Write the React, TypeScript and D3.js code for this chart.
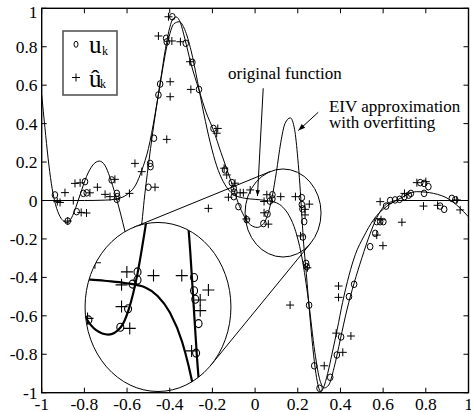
import React from "react";
import * as d3 from "d3";

// axis ticks
const xTickValues = [-1, -0.8, -0.6, -0.4, -0.2, 0, 0.2, 0.4, 0.6, 0.8, 1];
const xTickLabels = ["-1", "-0.8", "-0.6", "-0.4", "-0.2", "0", "0.2", "0.4", "0.6", "0.8", "1"];
const yTickValues = [-1, -0.8, -0.6, -0.4, -0.2, 0, 0.2, 0.4, 0.6, 0.8, 1];
const yTickLabels = ["-1", "-0.8", "-0.6", "-0.4", "-0.2", "0", "0.2", "0.4", "0.6", "0.8", "1"];

// original function
const originalFn: [number, number][] = [
  [-1, 0], [-0.8, 0], [-0.7, 0.002], [-0.65, 0.008], [-0.62, 0.018], [-0.59, 0.04],
  [-0.56, 0.08], [-0.53, 0.16], [-0.5, 0.27], [-0.47, 0.44], [-0.44, 0.64], [-0.41, 0.82],
  [-0.38, 0.92], [-0.355, 0.93], [-0.33, 0.89], [-0.3, 0.78], [-0.27, 0.62], [-0.24, 0.45],
  [-0.21, 0.3], [-0.18, 0.18], [-0.15, 0.1], [-0.12, 0.05], [-0.09, 0.025], [-0.05, 0.012],
  [0, 0.006], [0.05, 0], [0.1, -0.012], [0.13, -0.035], [0.16, -0.08], [0.19, -0.16],
  [0.22, -0.3], [0.25, -0.52], [0.28, -0.79], [0.305, -0.94], [0.325, -0.975], [0.345, -0.96],
  [0.37, -0.87], [0.4, -0.72], [0.43, -0.57], [0.464, -0.43], [0.5, -0.3], [0.54, -0.17],
  [0.57, -0.09], [0.6, -0.035], [0.63, -0.01], [0.67, 0], [1, 0],
];

// EIV approximation with overfitting
const eivFit: [number, number][] = [
  [-1, 0.55], [-0.985, 0.38], [-0.97, 0.22], [-0.955, 0.09], [-0.94, 0], [-0.92, -0.07],
  [-0.9, -0.105], [-0.88, -0.115], [-0.86, -0.09], [-0.84, -0.035], [-0.82, 0.03], [-0.79, 0.125],
  [-0.76, 0.185], [-0.73, 0.205], [-0.705, 0.185], [-0.68, 0.12], [-0.655, 0.03], [-0.63, -0.07],
  [-0.61, -0.16], [-0.59, -0.25], [-0.565, -0.3], [-0.545, -0.23], [-0.53, -0.11], [-0.52, 0],
  [-0.505, 0.14], [-0.49, 0.27], [-0.47, 0.43], [-0.445, 0.61], [-0.42, 0.79], [-0.4, 0.9],
  [-0.385, 0.945], [-0.37, 0.955], [-0.35, 0.925], [-0.33, 0.845], [-0.3, 0.71], [-0.263, 0.575],
  [-0.23, 0.46], [-0.195, 0.365], [-0.16, 0.25], [-0.13, 0.155], [-0.105, 0.075], [-0.08, -0.01],
  [-0.05, -0.085], [-0.02, -0.128], [0.01, -0.14], [0.04, -0.12], [0.06, -0.07], [0.08, 0.02],
  [0.1, 0.15], [0.12, 0.3], [0.14, 0.4], [0.165, 0.43], [0.185, 0.37], [0.2, 0.22],
  [0.21, 0.08], [0.218, -0.06], [0.226, -0.2], [0.24, -0.38], [0.255, -0.58], [0.27, -0.76],
  [0.285, -0.9], [0.297, -0.97], [0.308, -0.995], [0.32, -0.975], [0.34, -0.9], [0.36, -0.8],
  [0.385, -0.67], [0.41, -0.53], [0.44, -0.39], [0.47, -0.28], [0.508, -0.19], [0.555, -0.1],
  [0.617, -0.03], [0.68, 0.011], [0.758, 0.046], [0.836, 0.037], [0.914, 0.003], [0.977, -0.058],
  [1, -0.085],
];

// u_k (circles)
const uPoints: [number, number][] = [
  [-0.938, 0.029], [-0.878, -0.107], [-0.836, -0.058], [-0.797, 0.098], [-0.805, 0.037], [-0.789, 0.04],
  [-0.672, 0.107], [-0.648, 0.037], [-0.646, 0.02], [-0.648, 0.006], [-0.492, 0.193], [-0.49, 0.176],
  [-0.5, 0.069], [-0.388, 0.956], [-0.417, 0.844], [-0.414, 0.825], [-0.325, 0.818], [-0.294, 0.719],
  [-0.445, 0.606], [-0.453, 0.549], [-0.263, 0.578], [-0.195, 0.375], [-0.474, 0.324], [-0.141, 0.159],
  [-0.109, 0.093], [-0.1, 0.063], [-0.097, 0.043], [-0.1, 0.02], [-0.078, -0.032], [-0.039, -0.1],
  [0.069, -0.003], [0.081, 0.03], [0.081, 0.008], [0.058, -0.07], [0.039, -0.12], [0.219, 0.015],
  [0.219, -0.021], [0.222, -0.044], [0.23, -0.11], [0.224, -0.19], [0.239, -0.327], [0.242, -0.344],
  [0.253, -0.545], [0.277, -0.86], [0.302, -0.977], [0.352, -0.92], [0.383, -0.804], [0.403, -0.71],
  [0.44, -0.5], [0.464, -0.436], [0.539, -0.24], [0.563, -0.171], [0.57, -0.11], [0.586, -0.11],
  [0.601, -0.11], [0.614, -0.029], [0.633, 0], [0.656, 0.003], [0.677, 0.006], [0.7, 0.02],
  [0.72, 0.028], [0.73, 0.037], [0.774, 0.093], [0.792, 0.089], [0.812, 0.072], [0.792, 0.037],
  [0.867, -0.029], [0.886, -0.046], [0.922, 0.011], [0.938, 0.003],
];

// û_k (crosses)
const uHatPoints: [number, number][] = [
  [-0.927, -0.006], [-0.914, -0.01], [-0.891, 0.041], [-0.852, 0], [-0.815, -0.062], [-0.79, -0.065],
  [-0.878, -0.107], [-0.844, 0.089], [-0.82, 0.092], [-0.774, 0.04], [-0.739, 0.069], [-0.703, 0.032],
  [-0.68, 0.02], [-0.657, 0.11], [-0.589, 0.037], [-0.563, 0.193], [-0.531, 0.15], [-0.469, 0.069],
  [-0.406, 0.956], [-0.453, 0.856], [-0.39, 0.83], [-0.35, 0.826], [-0.305, 0.722], [-0.398, 0.618],
  [-0.398, 0.54], [-0.301, 0.578], [-0.175, 0.375], [-0.18, 0.35], [-0.414, 0.318], [-0.145, 0.168],
  [-0.133, 0.133], [-0.094, 0.09], [-0.125, 0.017], [-0.07, 0.04], [-0.055, 0.04], [-0.023, 0.055],
  [-0.219, -0.041], [-0.041, -0.096], [0.055, 0.03], [0.042, -0.005], [0.12, 0.02], [0.042, -0.064],
  [0.062, -0.123], [0.189, 0.02], [0.254, -0.019], [0.234, -0.046], [0.213, -0.184], [0.234, -0.075],
  [0.245, -0.35], [0.164, -0.544], [0.391, -0.445], [0.391, -0.504], [0.38, -0.69], [0.449, -0.705],
  [0.411, -0.79], [0.324, -0.86], [0.57, -0.18], [0.599, -0.235], [0.688, -0.113], [0.59, -0.1],
  [0.586, -0.006], [0.7, 0.037], [0.758, 0.093], [0.8, 0.098], [0.789, -0.029], [0.855, -0.025],
  [0.945, 0.003], [0.961, -0.049],
];

const legendNames = ["u", "û"];
const legendSub = "k";
const origLabel = "original function";
const eivLabel = ["EIV approximation", "with overfitting"];

const W = 471;
const H = 412;
const serif: React.CSSProperties = { fontFamily: "Liberation Serif" };

function plus(px: number, py: number, a: number) {
  return `M${px - a},${py}H${px + a}M${px},${py - a}V${py + a}`;
}

function arrowHead(x1: number, y1: number, x2: number, y2: number, len: number, half: number) {
  const dx = x2 - x1, dy = y2 - y1;
  const d = Math.hypot(dx, dy);
  const ux = dx / d, uy = dy / d;
  const bx = x2 - ux * len, by = y2 - uy * len;
  return `${x2},${y2} ${bx - uy * half},${by + ux * half} ${bx + uy * half},${by - ux * half}`;
}

export default function App() {
  const x = d3.scaleLinear().domain([-1, 1]).range([41.7, 468.5]);
  const y = d3.scaleLinear().domain([-1, 1]).range([392.7, 8.3]);

  // zoom geometry in data units
  const zoomC = [0.131, -0.065];
  const zoomR = [0.178, 0.229];
  const insetC = [-0.455, -0.554];
  const mag = 1.92;

  const cs = [x(zoomC[0]), y(zoomC[1])];
  const rs = [x(zoomC[0] + zoomR[0]) - cs[0], cs[1] - y(zoomC[1] + zoomR[1])];
  const cb = [x(insetC[0]), y(insetC[1])];
  const rb = [rs[0] * mag, rs[1] * mag];

  const xi = d3.scaleLinear().domain(x.domain()).range(x.range().map((v) => cb[0] + mag * (v - cs[0])));
  const yi = d3.scaleLinear().domain(y.domain()).range(y.range().map((v) => cb[1] + mag * (v - cs[1])));

  // outer tangents between the two (similar) ellipses
  const k = rs[0] / rs[1];
  const c1 = [cs[0], cs[1] * k], r1 = rs[0];
  const c2 = [cb[0], cb[1] * k], r2 = rb[0];
  const hx = (r2 * c1[0] - r1 * c2[0]) / (r2 - r1);
  const hy = (r2 * c1[1] - r1 * c2[1]) / (r2 - r1);
  const tangentPt = (c: number[], r: number, s: number) => {
    const dx = c[0] - hx, dy = c[1] - hy;
    const d = Math.hypot(dx, dy);
    const th = Math.atan2(dy, dx) + s * Math.asin(r / d);
    const L = Math.sqrt(d * d - r * r);
    return [hx + L * Math.cos(th), (hy + L * Math.sin(th)) / k];
  };
  const tangents = [1, -1].map((s) => [tangentPt(c1, r1, s), tangentPt(c2, r2, s)]);

  const mkLine = (sx: any, sy: any) =>
    d3.line<[number, number]>().x((d) => sx(d[0])).y((d) => sy(d[1])).curve(d3.curveMonotoneX);
  const mainLine = mkLine(x, y);
  const insetLine = mkLine(xi, yi);

  const [x0, x1] = x.range();
  const [yb, yt] = y.range();
  const tl = 5;

  // annotation anchors (data units)
  const origArrow = [[0.038, 0.584], [0.011, 0.023]].map((p) => [x(p[0]), y(p[1])]);
  const eivArrow = [[0.296, 0.459], [0.2025, 0.364]].map((p) => [x(p[0]), y(p[1])]);

  return (
    <svg width={W} height={H} style={{ position: "absolute", left: 0, top: 0, background: "#fff" }}>
      <defs>
        <clipPath id="plotClip">
          <rect x={x0} y={yt} width={x1 - x0} height={yb - yt} />
        </clipPath>
        <clipPath id="insetClip">
          <ellipse cx={cb[0]} cy={cb[1]} rx={rb[0]} ry={rb[1]} />
        </clipPath>
      </defs>
      <rect width={W} height={H} fill="#fff" />

      {/* main data */}
      <g clipPath="url(#plotClip)">
        <path d={mainLine(originalFn) || ""} fill="none" stroke="#000" strokeWidth={1} />
        <path d={mainLine(eivFit) || ""} fill="none" stroke="#000" strokeWidth={1} />
        {uPoints.map((p, i) => (
          <ellipse key={"c" + i} cx={x(p[0])} cy={y(p[1])} rx={2.8} ry={3.3} fill="none" stroke="#000" strokeWidth={1} />
        ))}
        {uHatPoints.map((p, i) => (
          <path key={"p" + i} d={plus(x(p[0]), y(p[1]), 4)} stroke="#000" strokeWidth={1} />
        ))}
      </g>

      {/* zoom circle and connectors */}
      <ellipse cx={cs[0]} cy={cs[1]} rx={rs[0]} ry={rs[1]} fill="none" stroke="#000" strokeWidth={1} />
      {tangents.map((t, i) => (
        <line key={"t" + i} x1={t[0][0]} y1={t[0][1]} x2={t[1][0]} y2={t[1][1]} stroke="#000" strokeWidth={1} />
      ))}

      {/* inset */}
      <ellipse cx={cb[0]} cy={cb[1]} rx={rb[0]} ry={rb[1]} fill="#fff" />
      <g clipPath="url(#insetClip)">
        <path d={insetLine(originalFn) || ""} fill="none" stroke="#000" strokeWidth={2.2} />
        <path d={insetLine(eivFit) || ""} fill="none" stroke="#000" strokeWidth={2.2} />
        {uPoints.map((p, i) => (
          <ellipse key={"ic" + i} cx={xi(p[0])} cy={yi(p[1])} rx={3.5} ry={4} fill="none" stroke="#000" strokeWidth={1.1} />
        ))}
        {uHatPoints.map((p, i) => (
          <path key={"ip" + i} d={plus(xi(p[0]), yi(p[1]), 6)} stroke="#000" strokeWidth={1.1} />
        ))}
      </g>
      <ellipse cx={cb[0]} cy={cb[1]} rx={rb[0]} ry={rb[1]} fill="none" stroke="#000" strokeWidth={1} />

      {/* frame and ticks */}
      <rect x={x0} y={yt} width={x1 - x0} height={yb - yt} fill="none" stroke="#000" strokeWidth={1.4} />
      {xTickValues.map((v, i) => (
        <g key={"xt" + i}>
          <line x1={x(v)} x2={x(v)} y1={yb} y2={yb - tl} stroke="#000" />
          <line x1={x(v)} x2={x(v)} y1={yt} y2={yt + tl} stroke="#000" />
          <text x={x(v)} y={409.5} textAnchor="middle" fontSize={17.5} style={serif}>
            {xTickLabels[i]}
          </text>
        </g>
      ))}
      {yTickValues.map((v, i) => (
        <g key={"yt" + i}>
          <line x1={x0} x2={x0 + tl} y1={y(v)} y2={y(v)} stroke="#000" />
          <line x1={x1} x2={x1 - tl} y1={y(v)} y2={y(v)} stroke="#000" />
          <text x={37.5} y={Math.max(y(v) + 6, 18)} textAnchor="end" fontSize={17.5} style={serif}>
            {yTickLabels[i]}
          </text>
        </g>
      ))}

      {/* legend */}
      <rect x={63} y={31} width={54} height={64} fill="#fff" stroke="#555" strokeWidth={1.6} />
      <ellipse cx={76} cy={44.3} rx={2} ry={3} fill="none" stroke="#000" strokeWidth={1} />
      <path d={plus(76, 77.5, 4)} stroke="#000" strokeWidth={1} />
      <text x={89} y={53.3} fontSize={25} style={serif}>{legendNames[0]}</text>
      <text x={102} y={54.5} fontSize={12} style={serif}>{legendSub}</text>
      <text x={89} y={87.3} fontSize={25} style={serif}>{legendNames[1]}</text>
      <text x={100} y={87.8} fontSize={12} style={serif}>{legendSub}</text>

      {/* annotations */}
      <line x1={origArrow[0][0]} y1={origArrow[0][1]} x2={origArrow[1][0]} y2={origArrow[1][1]} stroke="#000" strokeWidth={1} />
      <polygon points={arrowHead(origArrow[0][0], origArrow[0][1], origArrow[1][0], origArrow[1][1], 6, 2.2)} fill="#000" />
      <text x={x(-0.127)} y={y(0.632)} fontSize={17} style={serif}>{origLabel}</text>

      <line x1={eivArrow[0][0]} y1={eivArrow[0][1]} x2={eivArrow[1][0]} y2={eivArrow[1][1]} stroke="#000" strokeWidth={1} />
      <polygon points={arrowHead(eivArrow[0][0], eivArrow[0][1], eivArrow[1][0], eivArrow[1][1], 7, 2.6)} fill="#000" />
      <text x={x(0.346)} y={y(0.463)} fontSize={17} style={serif}>{eivLabel[0]}</text>
      <text x={x(0.346)} y={y(0.375)} fontSize={17} style={serif}>{eivLabel[1]}</text>
    </svg>
  );
}
